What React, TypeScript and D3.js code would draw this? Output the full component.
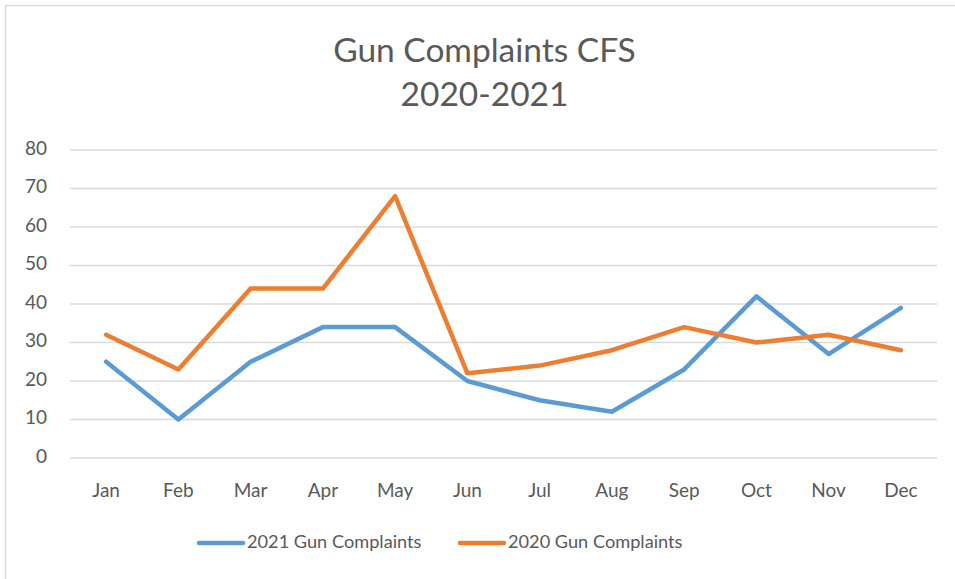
import { line, scaleBand, scaleLinear } from 'd3'
import { useMemo } from 'react'

const months = ['Jan', 'Feb', 'Mar', 'Apr', 'May', 'Jun', 'Jul', 'Aug', 'Sep', 'Oct', 'Nov', 'Dec']
const complaints2021 = [25, 10, 25, 34, 34, 20, 15, 12, 23, 42, 27, 39]
const complaints2020 = [32, 23, 44, 44, 68, 22, 24, 28, 34, 30, 32, 28]
const yTicks = [0, 10, 20, 30, 40, 50, 60, 70, 80]
const titleLines = ['Gun Complaints CFS', '2020-2021']

const series = [
  { name: '2021 Gun Complaints', values: complaints2021, color: '#5B9BD5' },
  { name: '2020 Gun Complaints', values: complaints2020, color: '#ED7D31' },
]

const width = 955
const height = 579
const plot = { left: 70, right: 937, top: 150, bottom: 458 }
const font = 'Lato, "Open Sans", sans-serif'
const textColor = '#595959'

const App = () => {
  const { x, y, paths } = useMemo(() => {
    const x = scaleBand<string>().domain(months).range([plot.left, plot.right])
    const y = scaleLinear().domain([0, 80]).range([plot.bottom, plot.top])
    const gen = line<number>()
      .x((_, i) => (x(months[i]) ?? 0) + x.bandwidth() / 2)
      .y((d) => y(d))
    const paths = series.map((s) => ({ ...s, d: gen(s.values) ?? '' }))
    return { x, y, paths }
  }, [])

  return (
    <div style={{ position: 'fixed', left: 0, top: 0 }}>
      <svg width={width} height={height} style={{ display: 'block', background: '#fff' }}>
        <rect x={5.5} y={5.5} width={width + 20} height={height + 20} fill="none" stroke="#d9d9d9" strokeWidth={1.5} />

        {titleLines.map((t, i) => (
          <text
            key={t}
            x={width / 2 + 7}
            y={62 + i * 44}
            textAnchor="middle"
            fontFamily={font}
            fontSize={33.5}
            fill={textColor}
          >
            {t}
          </text>
        ))}

        {yTicks.map((t) => (
          <g key={t}>
            <line x1={plot.left} x2={plot.right} y1={y(t)} y2={y(t)} stroke="#d9d9d9" strokeWidth={1.3} />
            <text
              x={47}
              y={y(t)}
              textAnchor="end"
              dominantBaseline="middle"
              fontFamily={font}
              fontSize={19}
              fill={textColor}
            >
              {t}
            </text>
          </g>
        ))}

        {months.map((m) => (
          <text
            key={m}
            x={(x(m) ?? 0) + x.bandwidth() / 2}
            y={497}
            textAnchor="middle"
            fontFamily={font}
            fontSize={19}
            fill={textColor}
          >
            {m}
          </text>
        ))}

        {paths.map((p) => (
          <path
            key={p.name}
            d={p.d}
            fill="none"
            stroke={p.color}
            strokeWidth={4.5}
            strokeLinejoin="round"
            strokeLinecap="round"
          />
        ))}

        {series.map((s, i) => {
          const lx = i === 0 ? 199 : 460
          return (
            <g key={s.name} transform={`translate(${lx}, 543)`}>
              <line x1={0} x2={44} y1={0} y2={0} stroke={s.color} strokeWidth={4.5} strokeLinecap="round" />
              <text x={48} y={0} dominantBaseline="middle" fontFamily={font} fontSize={18.2} fill={textColor}>
                {s.name}
              </text>
            </g>
          )
        })}
      </svg>
    </div>
  )
}

export default App
